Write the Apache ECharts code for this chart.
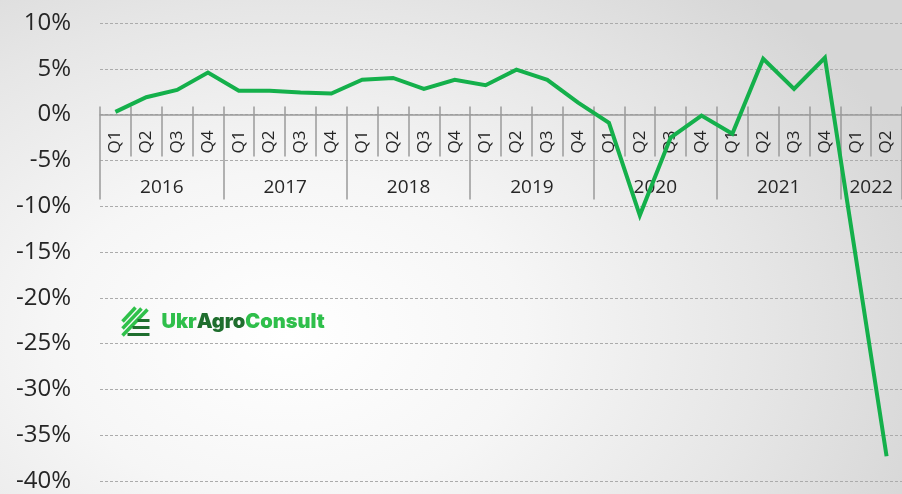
<!DOCTYPE html>
<html lang='uk'>

<head>
    <meta charset='UTF-8'>
    <title>UkrAgroConsult</title>
    <style>
        html, body {
            margin: 0;
            padding: 0;
            width: 902px;
            height: 494px;
            overflow: hidden;
        }

        body {
            background: radial-gradient(ellipse 75% 95% at 32% 68%, #ffffff 0%, #f6f6f6 35%, #e6e6e6 70%, #d6d6d6 100%);
        }

        #chart {
            width: 902px;
            height: 494px;
        }
    </style>
</head>

<body>
    <div id='chart'></div>
</body>
<script src='https://cdn.jsdelivr.net/npm/echarts@6/dist/echarts.min.js'></script>
<script>
    // quarters 2016 Q1 .. 2022 Q2
    var quarters = ['Q1', 'Q2', 'Q3', 'Q4', 'Q1', 'Q2', 'Q3', 'Q4', 'Q1', 'Q2', 'Q3', 'Q4', 'Q1', 'Q2', 'Q3', 'Q4',
        'Q1', 'Q2', 'Q3', 'Q4', 'Q1', 'Q2', 'Q3', 'Q4', 'Q1', 'Q2'];
    var years = ['2016', '2016', '2016', '2016', '2017', '2017', '2017', '2017', '2018', '2018', '2018', '2018',
        '2019', '2019', '2019', '2019', '2020', '2020', '2020', '2020', '2021', '2021', '2021', '2021', '2022', '2022'];
    var growth = [0.3, 1.9, 2.7, 4.6, 2.6, 2.6, 2.4, 2.3, 3.8, 4.0, 2.8, 3.8,
        3.2, 4.9, 3.8, 1.3, -0.9, -11.0, -2.5, -0.1, -2.1, 6.1, 2.8, 6.2, -15.5, -37.3];
    var yearLabelAt = [1, 5, 9, 13, 17, 21, 24];

    var yMin = -40, yMax = 10;
    var gridTop = 23, gridBottom = 13, chartH = 494;
    // distance from the bottom of the grid up to the 0% line
    var zeroOffset = (chartH - gridTop - gridBottom) * (0 - yMin) / (yMax - yMin);

    var textColor = '#262626';
    var axisGray = '#9a9a9a';
    var green = '#14b04b';

    var chart = echarts.init(document.getElementById('chart'), null, { renderer: 'canvas' });

    var option = {
        backgroundColor: 'transparent',
        animation: false,
        grid: {
            left: 100,
            right: 0,
            top: gridTop,
            bottom: gridBottom,
            containLabel: false,
            outerBoundsMode: 'none'
        },
        xAxis: [
            {
                type: 'category',
                data: quarters,
                position: 'bottom',
                offset: -zeroOffset,
                axisLine: { onZero: false, lineStyle: { color: axisGray, width: 1.5 } },
                axisTick: { show: true, length: 42, lineStyle: { color: axisGray, width: 1.5 } },
                axisLabel: {
                    rotate: 90,
                    margin: 16,
                    interval: 0,
                    hideOverlap: false,
                    color: textColor,
                    fontFamily: 'Open Sans',
                    fontSize: 17
                },
                splitLine: { show: false }
            },
            {
                // short ticks above the zero line
                type: 'category',
                data: quarters,
                position: 'bottom',
                offset: -zeroOffset,
                axisLine: { show: false, onZero: false },
                axisTick: { show: true, inside: true, length: 8, lineStyle: { color: axisGray, width: 1.5 } },
                axisLabel: { show: false },
                splitLine: { show: false }
            },
            {
                // year groups
                type: 'category',
                data: years,
                position: 'bottom',
                offset: -zeroOffset,
                axisLine: { show: false, onZero: false },
                axisTick: {
                    show: true,
                    length: 85,
                    interval: function (idx) { return idx % 4 === 0; },
                    lineStyle: { color: axisGray, width: 1.5 }
                },
                axisLabel: {
                    margin: 63,
                    interval: function (idx) { return yearLabelAt.indexOf(idx) >= 0; },
                    hideOverlap: false,
                    padding: [0, 0, 0, 31],
                    color: textColor,
                    fontFamily: 'Open Sans',
                    fontSize: 19
                },
                splitLine: { show: false }
            }
        ],
        yAxis: {
            type: 'value',
            min: yMin,
            max: yMax,
            interval: 5,
            axisLine: { show: false },
            axisTick: { show: false },
            axisLabel: {
                formatter: '{value}%',
                margin: 29,
                color: textColor,
                fontFamily: 'Open Sans',
                fontSize: 24
            },
            splitLine: { lineStyle: { color: '#ababab', type: [3, 2], width: 1 } }
        },
        series: [
            {
                type: 'line',
                data: growth,
                xAxisIndex: 0,
                symbol: 'none',
                lineStyle: { color: green, width: 4, join: 'miter' },
                z: 5
            }
        ],
        graphic: [
            {
                type: 'group',
                left: 120,
                top: 305,
                silent: true,
                children: [
                    { type: 'line', shape: { x1: 1, y1: 14, x2: 14, y2: 0 }, style: { stroke: '#2fc14a', lineWidth: 3.5 } },
                    { type: 'line', shape: { x1: 1, y1: 21, x2: 20, y2: 1 }, style: { stroke: '#2fc14a', lineWidth: 3.5 } },
                    { type: 'line', shape: { x1: 1, y1: 28, x2: 26, y2: 2 }, style: { stroke: '#2fc14a', lineWidth: 3.5 } },
                    { type: 'line', shape: { x1: 16, y1: 13, x2: 28, y2: 13 }, style: { stroke: '#1f6e2e', lineWidth: 3 } },
                    { type: 'line', shape: { x1: 11, y1: 20, x2: 28, y2: 20 }, style: { stroke: '#1f6e2e', lineWidth: 3 } },
                    { type: 'line', shape: { x1: 6, y1: 27, x2: 28, y2: 27 }, style: { stroke: '#1f6e2e', lineWidth: 3 } },
                    {
                        type: 'text',
                        x: 40,
                        y: 4,
                        style: {
                            text: '{a|Ukr}{b|Agro}{a|Consult}',
                            rich: {
                                a: { fill: '#2fbf4b', fontFamily: 'Inter', fontWeight: 900, fontSize: 20 },
                                b: { fill: '#1f6e2e', fontFamily: 'Inter', fontWeight: 900, fontSize: 20 }
                            }
                        }
                    }
                ]
            }
        ]
    };
    chart.setOption(option);
</script>

</html>
